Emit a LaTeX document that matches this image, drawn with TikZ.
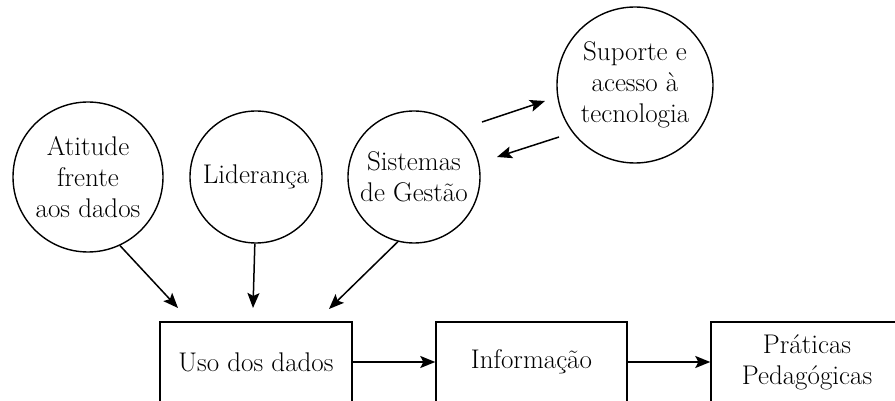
\documentclass[tikz,border=0pt]{standalone}
\usepackage{fontspec}
\setmainfont{Latin Modern Roman}
\usetikzlibrary{arrows.meta}
\begin{document}
\begin{tikzpicture}[x=1pt,y=-1pt,
  every node/.style={font=\rmfamily\fontsize{27}{31}\selectfont, align=center},
  circ/.style={draw, circle, line width=1.4pt, inner sep=0pt},
  boxnode/.style={draw, rectangle, line width=1.4pt, inner sep=0pt, minimum width=192pt, minimum height=80pt},
  arr/.style={line width=1.5pt, -{Stealth[length=15pt,width=12pt,inset=3pt]}}]
\useasboundingbox (0,0) rectangle (895,401);
\clip (0,0) rectangle (895,401);
\node[circ, minimum size=150pt] (c1) at (88,177) {Atitude\\frente\\aos dados};
\node[circ, minimum size=132pt] (c2) at (256,177) {Liderança};
\node[circ, minimum size=132pt] (c3) at (414,177) {Sistemas\\de Gestão};
\node[circ, minimum size=156pt] (c4) at (635,85) {Suporte e\\acesso à\\tecnologia};
\node[boxnode] (b1) at (256,362) {Uso dos dados};
\node[boxnode, minimum width=191pt] (b2) at (531.5,362) {Informação};
\node[boxnode] (b3) at (807,362) {Práticas\\Pedagógicas};
\coordinate (a1) at (178,308);
\coordinate (a2) at (253,308);
\coordinate (a3) at (329,309);
\coordinate (s1) at (482,122);
\coordinate (s2) at (545,101);
\coordinate (t1) at (559,137);
\coordinate (t2) at (497,157);
\draw[arr] (c1.-65) -- (a1);
\draw[arr] (c2.-91) -- (a2);
\draw[arr] (c3.-104) -- (a3);
\draw[arr] (s1) -- (s2);
\draw[arr] (t1) -- (t2);
\draw[arr] (b1.east) -- (b2.west);
\draw[arr] (b2.east) -- (b3.west);
\end{tikzpicture}
\end{document}
